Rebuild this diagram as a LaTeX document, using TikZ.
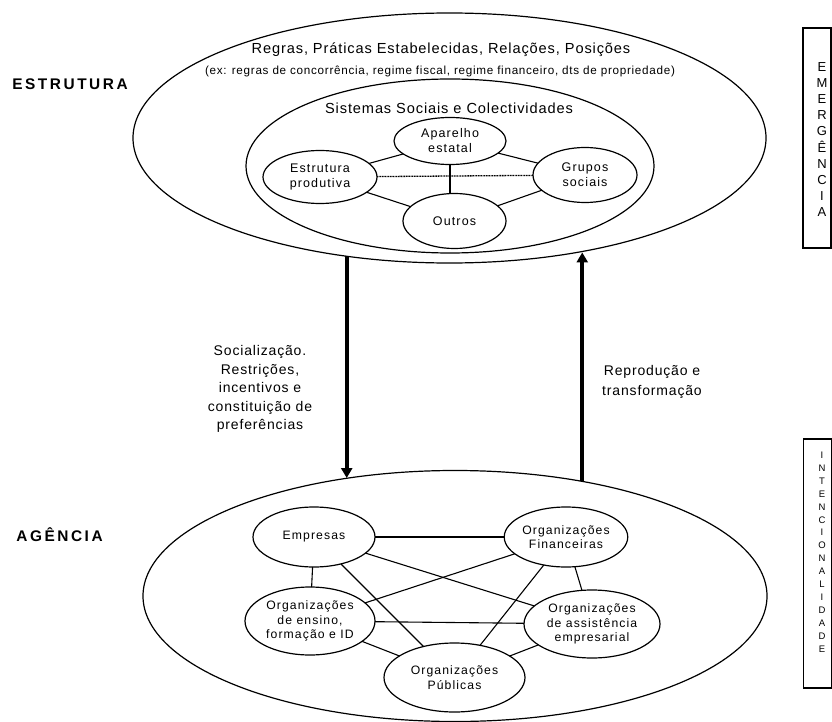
\documentclass[tikz,border=0pt]{standalone}
\usepackage{fontspec}
\setmainfont{Liberation Sans}[LetterSpace=6]
\usetikzlibrary{shapes.geometric,arrows.meta}
\tikzstyle{elipse}=[draw,ellipse,inner sep=0pt,outer sep=0pt,line width=1.2pt,align=center]
\tikzstyle{nodo}=[elipse,font=\fontsize{12.5}{15}\selectfont\addfontfeatures{LetterSpace=9}]
\tikzstyle{org}=[elipse,font=\fontsize{12.2}{14.3}\selectfont\addfontfeatures{LetterSpace=9}]
\tikzstyle{texto}=[inner sep=0pt,align=center]
\tikzstyle{titulo}=[texto,font=\fontsize{15.4}{18}\selectfont\bfseries\addfontfeatures{LetterSpace=16.5}]
\tikzstyle{letras}=[texto,font=\fontsize{13}{16.2}\selectfont\addfontfeatures{LetterSpace=0}]
\tikzstyle{caixa}=[draw,line width=1.2pt,minimum width=28pt,inner sep=0pt]
\tikzstyle{liga}=[line width=1.1pt]
\tikzstyle{seta}=[line width=4pt,-{Triangle[width=11pt,length=10pt]}]

\begin{document}
\begin{tikzpicture}[x=1pt,y=-1pt]
    \useasboundingbox (0,0) rectangle (832,722);
    \node [elipse,minimum width=633pt,minimum height=250pt] (estrutura) at (449.5,138) {};
    \node [elipse,minimum width=408pt,minimum height=174pt] (sistemas) at (450,166) {};
    \node [elipse,minimum width=624pt,minimum height=251pt] (agencia) at (455,596) {};

    \node [titulo] (lestr) at (70,84) {ESTRUTURA};
    \node [titulo] (lagen) at (59.5,535) {AGÊNCIA};
    \node [texto,font=\fontsize{14.6}{18}\selectfont] (regras) at (441,50) {Regras, Práticas Estabelecidas, Relações, Posições};
    \node [texto,font=\fontsize{11.7}{13}\selectfont] (ex) at (440,71) {(ex: regras de concorrência, regime fiscal, regime financeiro, dts de propriedade)};
    \node [texto,font=\fontsize{14.6}{17}\selectfont] (lsist) at (449,108) {Sistemas Sociais e Colectividades};

    \node [nodo,minimum width=112pt,minimum height=47pt] (aparelho) at (450,141) {Aparelho\\estatal};
    \node [nodo,minimum width=114pt,minimum height=53pt] (estprod) at (320,177) {Estrutura\\produtiva};
    \node [nodo,minimum width=104pt,minimum height=55pt] (grupos) at (585,175) {Grupos\\sociais};
    \node [nodo,minimum width=103pt,minimum height=55pt] (outros) at (454.5,221) {Outros};

    \draw [liga] (estprod) -- (aparelho);
    \draw [liga] (aparelho) -- (grupos);
    \draw [liga] (estprod) -- (outros);
    \draw [liga] (outros) -- (grupos);
    \draw [liga] (aparelho.south) -- (aparelho.south |- outros.north);
    \draw [line width=1.3pt,dash pattern=on 1pt off 0.6pt] (estprod) -- (grupos);

    \node [org,minimum width=122pt,minimum height=60pt] (empresas) at (314,537) {Empresas};
    \node [org,minimum width=122pt,minimum height=60pt] (financ) at (566,537) {Organizações\\Financeiras};
    \node [org,minimum width=130pt,minimum height=68pt] (ensino) at (310,621) {Organizações\\de ensino,\\formação e ID};
    \node [org,minimum width=136pt,minimum height=68pt] (assist) at (592,624) {Organizações\\de assistência\\empresarial};
    \node [org,minimum width=141pt,minimum height=69pt] (publicas) at (454.5,677.5) {Organizações\\Públicas};

    \draw [liga] (empresas) -- (financ);
    \draw [liga] (empresas) -- (ensino);
    \draw [liga] (empresas) -- (assist);
    \draw [liga] (empresas) -- (publicas);
    \draw [liga] (financ) -- (ensino);
    \draw [liga] (financ) -- (publicas);
    \draw [liga] (financ) -- (assist);
    \draw [liga] (ensino) -- (assist);
    \draw [liga] (ensino) -- (publicas);
    \draw [liga] (assist) -- (publicas);

    \draw [seta] (estrutura.229.4) -- (estrutura.229.4 |- agencia.132.2);
    \draw [seta] (agencia.42.6) -- (agencia.42.6 |- estrutura.318.9);
    \node [texto,font=\fontsize{14}{18.5}\selectfont] (lsocial) at (260,389) {Socialização.\\Restrições,\\incentivos e\\constituição de\\preferências};
    \node [texto,font=\fontsize{14}{20}\selectfont] (lrepro) at (652,382) {Reprodução e\\transformação};

    \node [caixa,minimum height=220pt] (emerg) at (817,138) {};
    \node [letras] (lemerg) at (822,139.5) {E\\M\\E\\R\\G\\Ê\\N\\C\\I\\A};
    \node [caixa,minimum height=249pt] (intenc) at (817.5,563.5) {};
    \node [letras,font=\fontsize{9.5}{12.9}\selectfont] (lintenc) at (822,552) {I\\N\\T\\E\\N\\C\\I\\O\\N\\A\\L\\I\\D\\A\\D\\E};
\end{tikzpicture}
\end{document}
